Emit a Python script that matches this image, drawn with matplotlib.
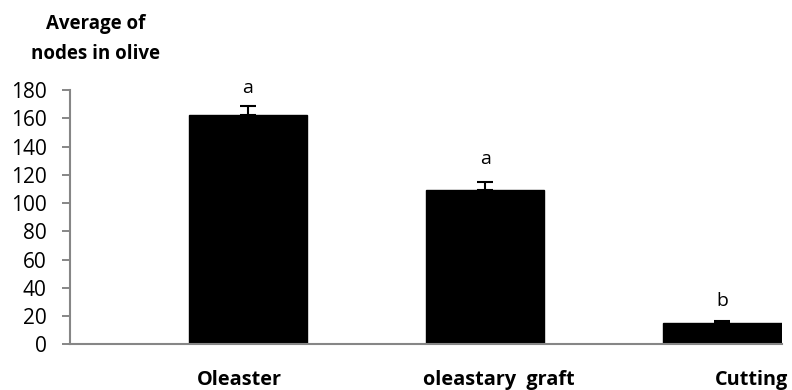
"""Bar chart of average node counts in olive propagation methods."""

import matplotlib.pyplot as plt
import numpy as np

plt.rcParams['font.family'] = ['Open Sans', 'DejaVu Sans']

categories = ['Oleaster', 'oleastary  graft', 'Cutting']
means = [162, 109, 15.5]
errors = [7, 6, 1]
letters = ['a', 'a', 'b']
yticks = list(range(0, 181, 20))

AXIS_GRAY = '#868686'


def main():
    fig = plt.figure(figsize=(7.92, 3.90), dpi=100)
    ax = fig.add_axes([0.0884, 0.1167, 0.8986, 0.6526])

    x = np.arange(len(categories)) + 0.75
    ax.bar(x, means, width=0.5, color='black', edgecolor='black', zorder=2)
    ax.errorbar(x, means, yerr=[np.zeros(len(means)), errors], fmt='none',
                ecolor='black', elinewidth=1.5, capsize=6, capthick=1.5,
                zorder=3)

    # significance letters, nudged by hand above each error bar
    letter_pad = [9, 13, 11]
    for xi, m, e, s, p in zip(x, means, errors, letters, letter_pad):
        ax.annotate(s, (xi, m + e), xytext=(0, p), textcoords='offset points',
                    ha='center', va='baseline', fontsize=14)

    ax.set_xlim(0, 3)
    ax.set_ylim(0, 180)
    ax.set_yticks(yticks)
    ax.tick_params(axis='y', labelsize=15, length=5.8, width=1.4,
                   color=AXIS_GRAY, pad=11)
    ax.set_xticks([])

    # category names sit slightly off the bar centres
    label_x = [0.712, 1.807, 2.874]
    for lx, name in zip(label_x, categories):
        ax.text(lx, -0.159, name, transform=ax.get_xaxis_transform(),
                ha='center', va='baseline', fontsize=14.3, fontweight='bold')

    for side in ('top', 'right'):
        ax.spines[side].set_visible(False)
    for side in ('left', 'bottom'):
        ax.spines[side].set_color(AXIS_GRAY)
        ax.spines[side].set_linewidth(1.5)

    fig.text(0.121, 0.90, 'Average of\nnodes in olive', ha='center',
             va='center', fontsize=13.5, fontweight='bold', linespacing=1.7)

    fig.savefig('out.png', dpi=100)
    plt.close(fig)


if __name__ == '__main__':
    main()
